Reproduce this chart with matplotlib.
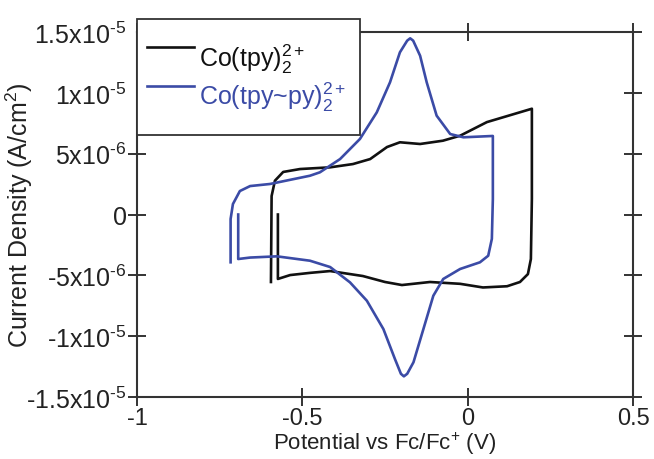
import matplotlib
matplotlib.use('Agg')
import matplotlib.pyplot as plt
from matplotlib.patches import Rectangle

plt.rcParams['font.family'] = ['Liberation Sans', 'DejaVu Sans']
plt.rcParams['mathtext.fontset'] = 'custom'
plt.rcParams['mathtext.rm'] = 'Liberation Sans'
plt.rcParams['mathtext.it'] = 'Liberation Sans:italic'

# Co(tpy)2 2+ cyclic voltammogram (V vs Fc/Fc+, A/cm2)
tpy_v = [-0.574, -0.574, -0.537, -0.477, -0.416, -0.317, -0.250, -0.199, -0.114,
         -0.023, 0.046, 0.119, 0.158, 0.182, 0.191, 0.194, 0.194, 0.058, -0.023,
         -0.075, -0.144, -0.205, -0.244, -0.295, -0.347, -0.416, -0.507, -0.558,
         -0.583, -0.593, -0.595]
tpy_i = [0.0, -5.3e-6, -4.98e-6, -4.8e-6, -4.65e-6, -5.06e-6, -5.55e-6, -5.8e-6, -5.55e-6,
         -5.7e-6, -6.0e-6, -5.9e-6, -5.55e-6, -4.9e-6, -3.66e-6, 1.3e-6, 8.7e-6, 7.6e-6, 6.48e-6,
         6.07e-6, 5.8e-6, 5.94e-6, 5.55e-6, 4.56e-6, 4.15e-6, 3.88e-6, 3.74e-6, 3.5e-6,
         2.78e-6, 1.52e-6, -5.55e-6]

# Co(tpy~py)2 2+ cyclic voltammogram
tpypy_v = [-0.694, -0.694, -0.658, -0.577, -0.477, -0.416, -0.356, -0.305, -0.255,
           -0.220, -0.202, -0.193, -0.183, -0.164, -0.134, -0.104, -0.074, -0.023,
           0.037, 0.062, 0.073, 0.076, 0.076, -0.013, -0.053, -0.094, -0.124,
           -0.144, -0.165, -0.174, -0.183, -0.205, -0.235, -0.275, -0.326, -0.386,
           -0.447, -0.477, -0.598, -0.658, -0.689, -0.710, -0.717, -0.717]
tpypy_i = [0.0, -3.66e-6, -3.54e-6, -3.44e-6, -3.80e-6, -4.32e-6, -5.58e-6, -7.09e-6, -9.42e-6,
           -1.189e-5, -1.31e-5, -1.331e-5, -1.31e-5, -1.215e-5, -9.42e-6, -6.68e-6, -5.3e-6, -4.48e-6,
           -3.93e-6, -3.39e-6, -2.0e-6, 1.27e-6, 6.46e-6, 6.35e-6, 6.62e-6, 8.13e-6, 1.087e-5,
           1.306e-5, 1.43e-5, 1.449e-5, 1.43e-5, 1.334e-5, 1.087e-5, 8.40e-6, 6.21e-6, 4.56e-6,
           3.47e-6, 3.19e-6, 2.51e-6, 2.34e-6, 1.93e-6, 0.86e-6, -0.37e-6, -3.93e-6]

xticks = [-1, -0.5, 0, 0.5]
xtick_labels = ['-1', '-0.5', '0', '0.5']
yticks = [-1.5e-5, -1e-5, -5e-6, 0, 5e-6, 1e-5, 1.5e-5]
ytick_labels = [r'-1.5x10$^{\text{-5}}$', r'-1x10$^{\text{-5}}$', r'-5x10$^{\text{-6}}$', '0',
                r'5x10$^{\text{-6}}$', r'1x10$^{\text{-5}}$', r'1.5x10$^{\text{-5}}$']

blue = '#3b4ba6'
axis_col = '#333333'
fs = 18

fig = plt.figure(figsize=(6.54, 4.6), dpi=100)
ax = fig.add_axes([0.2095, 0.135, 0.7585, 0.793])

ax.plot(tpy_v, tpy_i, color='#111111', lw=1.9, label='Co(tpy)$_2^{2+}$')
ax.plot(tpypy_v, tpypy_i, color=blue, lw=1.9, label='Co(tpy~py)$_2^{2+}$')

ax.set_xlim(-1, 0.5)
ax.set_ylim(-1.5e-5, 1.5e-5)
ax.set_xticks(xticks)
ax.set_xticklabels(xtick_labels)
ax.set_yticks(yticks)
ax.set_yticklabels(ytick_labels)

for s in ax.spines.values():
    s.set_linewidth(1.5)
    s.set_color(axis_col)
ax.tick_params(direction='inout', length=13, width=1.4, color=axis_col,
               labelsize=fs, labelcolor='#222222', top=True, right=True)
ax.tick_params(axis='y', pad=1)
ax.tick_params(axis='x', pad=1, labelsize=17)
# left ticks hidden behind the legend box
for t in ax.yaxis.get_major_ticks()[-2:]:
    t.tick1line.set_visible(False)

ax.set_xlabel('Potential vs Fc/Fc$^{+}$ (V)', fontsize=16, color='#222222')
ax.set_ylabel('Current Density (A/cm$^{2}$)', fontsize=fs, color='#222222')
ax.xaxis.set_label_coords(0.5, -0.09)
ax.yaxis.set_label_coords(-0.205, 0.5)

# legend box: frame drawn separately so the padding matches the original
ax.add_patch(Rectangle((0, 0.718), 0.45, 0.318, transform=ax.transAxes,
                       facecolor='white', edgecolor=axis_col, lw=1.3,
                       zorder=9, clip_on=False))
leg = ax.legend(loc='upper left', bbox_to_anchor=(0.02, 0.975), borderaxespad=0,
                borderpad=0, fontsize=fs, handlelength=1.9, handletextpad=0.2,
                labelspacing=0.2, frameon=False)
leg.set_zorder(10)
for txt, col in zip(leg.get_texts(), ['#111111', blue]):
    txt.set_color(col)
for ln in leg.get_lines():
    ln.set_ydata([v + 7 for v in ln.get_ydata()])

fig.savefig('out.png', dpi=100)
